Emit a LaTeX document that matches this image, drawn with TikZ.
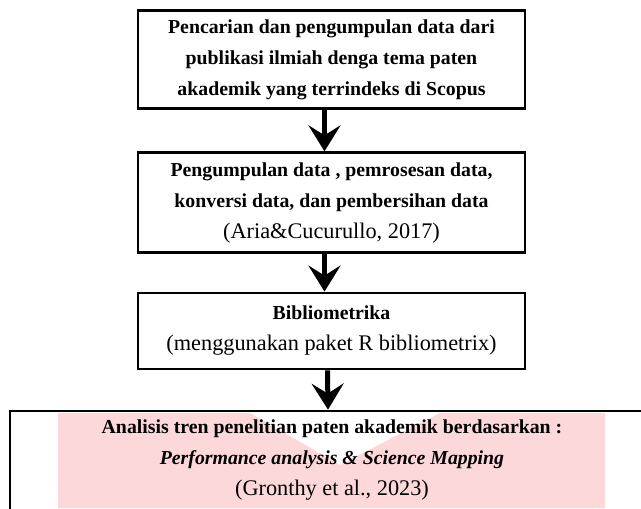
\documentclass[tikz,border=0pt]{standalone}
\usepackage{fontspec}
\setmainfont{Liberation Serif}
\usepackage{tikz}
\usetikzlibrary{arrows.meta, positioning}
\definecolor{highlightpink}{HTML}{FDD8DB}

\newcommand{\boldtext}{\fontsize{19.8}{31}\selectfont\bfseries}
\newcommand{\plaintext}{\fontsize{22.3}{31}\selectfont\mdseries}

\begin{document}
\begin{tikzpicture}[x=1pt, y=-1pt,
  stagebox/.style={draw=black, line width=2.8pt, align=center, font=\boldtext, inner sep=0pt, minimum width=387pt},
  flowarrow/.style={line width=5pt, -{Stealth[length=26pt, width=32pt, inset=10pt]}}
]
  \useasboundingbox (0,0) rectangle (641,509);

  % Pink highlight behind the last stage
  \fill[highlightpink] (58,413) -- (250,413) -- (340,465) -- (440,413) -- (605,413) -- (605,508) -- (58,508) -- cycle;

  % Stages of the study
  \node[stagebox, minimum height=98pt] (search) at (331.5, 59.5) {Pencarian dan pengumpulan data dari\\ publikasi ilmiah denga tema paten\\ akademik yang terrindeks di Scopus};
  \node[stagebox, minimum height=100pt] (collect) at (331.5, 202.75) {Pengumpulan data , pemrosesan data,\\ konversi data, dan pembersihan data\\ {\plaintext (Aria\&Cucurullo, 2017)}};
  \node[stagebox, minimum height=76pt] (biblio) at (331.5, 331) {Bibliometrika\\ {\plaintext (menggunakan paket R bibliometrix)}};
  \node[stagebox, minimum width=644pt, minimum height=99pt] (analysis) at (332, 460.5) {Analisis tren penelitian paten akademik berdasarkan :\\ \textit{Performance analysis \& Science Mapping}\\ {\plaintext (Gronthy et al., 2023)}};

  % Arrows between stages
  \draw[flowarrow] ([xshift=-7pt]search.south) -- ([xshift=-7pt]collect.north);
  \draw[flowarrow] ([xshift=-7pt]collect.south) -- ([xshift=-7pt]biblio.north);
  \draw[flowarrow] ([xshift=-4pt]biblio.south) -- ([xshift=-4pt]analysis.north);
\end{tikzpicture}
\end{document}
